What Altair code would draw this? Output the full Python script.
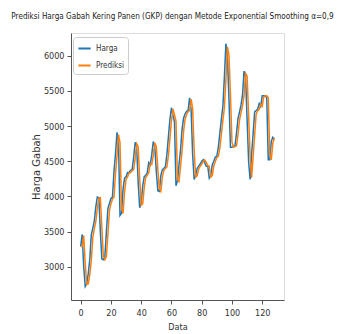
import altair as alt
import pandas as pd

harga = [3290,3460,3000,2720,2760,2900,3100,3450,3550,3650,
         3850,3990,3980,3500,3110,3100,3150,3500,3830,3900,
         3970,3990,4350,4600,4910,4750,3730,3760,4100,4260,
         4280,4340,4340,4370,4380,4550,4770,4700,4200,3840,
         3900,4150,4280,4300,4340,4480,4450,4600,4780,4700,
         4350,4080,4070,4300,4380,4400,4420,4600,4850,5100,
         5260,5150,5060,4150,4220,4450,4660,4950,5110,5170,
         5210,5220,5400,5230,4600,4240,4300,4400,4430,4460,
         4500,4520,4480,4430,4430,4260,4300,4450,4500,4560,
         4570,4700,4900,5100,5280,5700,6170,5990,5400,4700,
         4700,4710,4720,4900,5110,5200,5300,5450,5780,5700,
         5100,4500,4240,4600,4900,5200,5220,5240,5320,5280,
         5430,5430,5430,5400,4520,4520,4780,4840,4810]

prediksi = [3290,3290,3443,3046,2748,2756,2886,3080,3415,3540,
            3640,3830,3976,3981,3548,3149,3101,3145,3465,3797,
            3893,3963,3988,4314,4575,4879,4766,3832,3757,4066,
            4244,4278,4334,4340,4367,4379,4533,4748,4707,4250,
            3876,3894,4125,4267,4298,4336,4466,4453,4585,4762,
            4708,4385,4107,4071,4277,4372,4398,4418,4582,4825,
            5075,5244,5161,5069,4241,4213,4427,4639,4921,5094,
            5164,5206,5219,5382,5247,4663,4276,4294,4390,4427,
            4457,4496,4518,4484,4435,4430,4277,4296,4435,4495,
            4554,4569,4687,4880,5080,5262,5658,6123,6008,5459,
            4770,4700,4709,4719,4882,5089,5191,5290,5435,5747,
            5708,5160,4560,4266,4564,4870,5170,5218,5238,5312,
            5284,5415,5430,5430,5403,4608,4520,4754,4834]

series_names = ["Harga", "Prediksi"]
series_colors = ["#1f77b4", "#ff7f0e"]
x_ticks = [0, 20, 40, 60, 80, 100, 120]
y_ticks = [3000, 3500, 4000, 4500, 5000, 5500, 6000]

rows = []
for i, v in enumerate(harga):
    rows.append({"Data": i, "Nilai": v, "Seri": "Harga", "ord": 0})
for i, v in enumerate(prediksi):
    rows.append({"Data": i, "Nilai": v, "Seri": "Prediksi", "ord": 1})
df = pd.DataFrame(rows)

narrow = "Liberation Sans Narrow, DejaVu Sans Condensed, sans-serif"

chart = alt.Chart(df).mark_line(strokeWidth=1.5).encode(
    x=alt.X("Data:Q",
            scale=alt.Scale(domain=[-6.4, 134.4], nice=False, zero=False),
            axis=alt.Axis(values=x_ticks, title="Data", grid=False, format="d",
                          labelFont=narrow, labelFontSize=9, labelColor="#333",
                          titleFont=narrow, titleFontSize=9, titleFontWeight="normal",
                          titleColor="#333", titlePadding=5, labelPadding=4,
                          tickSize=4, tickColor="#555", domainColor="#555")),
    y=alt.Y("Nilai:Q",
            scale=alt.Scale(domain=[2528, 6322], nice=False, zero=False),
            axis=alt.Axis(values=y_ticks, title="Harga Gabah", grid=False, format="d",
                          labelFont=narrow, labelFontSize=9, labelColor="#333",
                          titleFont="DejaVu Sans", titleFontSize=10, titleFontWeight="normal",
                          titleColor="#333", titlePadding=2, labelPadding=3,
                          tickSize=4, tickColor="#555", domainColor="#555")),
    color=alt.Color("Seri:N",
                    scale=alt.Scale(domain=series_names, range=series_colors),
                    legend=alt.Legend(title=None, orient="none", legendX=2, legendY=4,
                                      symbolType="stroke", symbolStrokeWidth=2,
                                      symbolSize=150, labelFont=narrow, labelFontSize=8,
                                      labelColor="#333", padding=4, rowPadding=5,
                                      labelOffset=4,
                                      strokeColor="#ccc", fillColor="white",
                                      cornerRadius=3)),
    order=alt.Order("ord:Q"),
).properties(
    width=213,
    height=267,
    title=alt.Title("Prediksi Harga Gabah Kering Panen (GKP) dengan Metode Exponential Smoothing α=0,9",
                    font=narrow, fontSize=8.1, fontWeight="normal", color="#222",
                    anchor="middle", frame="group", offset=12, dx=-5),
    autosize=alt.AutoSizeParams(type="none"),
    padding={"left": 63, "top": 25, "right": 53, "bottom": 40},
).configure_view(
    stroke="#555", strokeWidth=1
).configure(background="white")

chart.save("out.html", embed_options={"renderer": "svg", "actions": False})
